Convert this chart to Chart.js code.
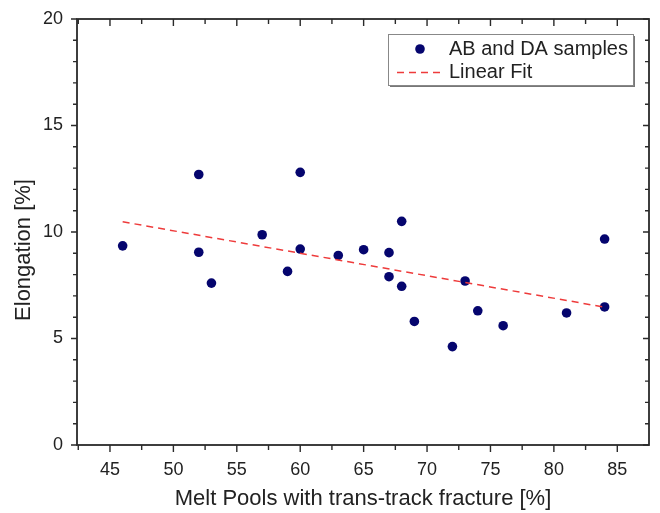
<!DOCTYPE html>
<html>
<head>
<meta charset="utf-8">
<script src="https://cdn.jsdelivr.net/npm/chart.js@4.4.0/dist/chart.umd.min.js"></script>
<style>
  html, body { margin: 0; padding: 0; background: #fff; }
  #wrap { width: 660px; height: 513px; }
</style>
</head>
<body>
<div id="wrap"><canvas id="meltChart" width="660" height="513"></canvas></div>
<script>
// melt pools with trans-track fracture [%]
var meltPools = [46, 52, 52, 53, 57, 59, 60, 60, 63, 65, 67, 67, 68, 68, 69, 72, 73, 74, 76, 81, 84, 84];
// elongation [%]
var elongation = [9.35, 12.7, 9.05, 7.6, 9.87, 8.15, 12.8, 9.2, 8.9, 9.17, 9.03, 7.9, 10.5, 7.45, 5.8, 4.62, 7.7, 6.3, 5.6, 6.2, 9.67, 6.48];
// linear fit end points
var fitX = [46, 84];
var fitY = [10.48, 6.47];
var xTicks = [45, 50, 55, 60, 65, 70, 75, 80, 85];
var yTicks = [0, 5, 10, 15, 20];

var FONT = "'Liberation Sans', Arial, sans-serif";
var TEXT = '#222';
var AXIS = '#2a2a2a';
var DOT = '#05056e';
var FIT = '#ee3b3b';

// frame round the plot, with major + minor ticks (out on bottom/left, in on top/right)
var framePlugin = {
  id: 'frame',
  afterDraw: function (chart) {
    var ctx = chart.ctx;
    var a = chart.chartArea;
    var xs = chart.scales.x;
    var ys = chart.scales.y;
    ctx.save();
    ctx.strokeStyle = AXIS;
    ctx.lineWidth = 1.8;
    ctx.strokeRect(a.left, a.top, a.right - a.left, a.bottom - a.top);
    ctx.lineWidth = 1.4;
    ctx.beginPath();
    for (var v = 42.5; v <= 87.5; v += 2.5) {
      if (v <= xs.min || v >= xs.max) continue;
      var len = (v % 5 === 0) ? 7 : 5;
      var px = xs.getPixelForValue(v);
      ctx.moveTo(px, a.bottom); ctx.lineTo(px, a.bottom + len);
      ctx.moveTo(px, a.top); ctx.lineTo(px, a.top + len);
    }
    for (var w = 0; w <= 20; w += 1) {
      var l2 = (w % 5 === 0) ? 6 : 4;
      var py = ys.getPixelForValue(w);
      ctx.moveTo(a.left - l2, py); ctx.lineTo(a.left, py);
      ctx.moveTo(a.right - l2, py); ctx.lineTo(a.right, py);
    }
    ctx.stroke();

    // y axis title, sits a little below the middle like the original
    ctx.fillStyle = TEXT;
    ctx.font = '22px ' + FONT;
    ctx.textAlign = 'center';
    ctx.textBaseline = 'middle';
    ctx.translate(24, 250);
    ctx.rotate(-Math.PI / 2);
    ctx.fillText('Elongation [%]', 0, 0);
    ctx.restore();
  }
};

// boxed legend inside the plot, top right
var legendPlugin = {
  id: 'boxLegend',
  afterDraw: function (chart) {
    var ctx = chart.ctx;
    var a = chart.chartArea;
    var bx = a.right - 261, by = a.top + 15, bw = 245, bh = 51;
    ctx.save();
    ctx.fillStyle = '#777';
    ctx.fillRect(bx + 2, by + 2, bw, bh);
    ctx.fillStyle = '#fff';
    ctx.fillRect(bx, by, bw, bh);
    ctx.strokeStyle = '#888';
    ctx.lineWidth = 1;
    ctx.strokeRect(bx + 0.5, by + 0.5, bw, bh);

    var ds = chart.data.datasets;
    ctx.fillStyle = ds[0].backgroundColor;
    ctx.beginPath();
    ctx.arc(bx + 32, by + 15, 4.8, 0, Math.PI * 2);
    ctx.fill();

    ctx.strokeStyle = ds[1].borderColor;
    ctx.lineWidth = 1.5;
    ctx.setLineDash([7, 5]);
    ctx.beginPath();
    ctx.moveTo(bx + 9, by + 38.5);
    ctx.lineTo(bx + 53, by + 38.5);
    ctx.stroke();
    ctx.setLineDash([]);

    ctx.fillStyle = TEXT;
    ctx.font = '20px ' + FONT;
    ctx.textBaseline = 'middle';
    ctx.fillText(ds[0].label, bx + 61, by + 15);
    ctx.fillText(ds[1].label, bx + 61, by + 38);
    ctx.restore();
  }
};

var ctx = document.getElementById('meltChart').getContext('2d');

var meltChart = new Chart(ctx, {
  type: 'scatter',
  data: {
    datasets: [{
      label: 'AB and DA samples',
      data: meltPools.map(function (x, i) { return { x: x, y: elongation[i] }; }),
      backgroundColor: DOT,
      borderWidth: 0,
      pointRadius: 4.8,
      order: 1
    }, {
      label: 'Linear Fit',
      data: fitX.map(function (x, i) { return { x: x, y: fitY[i] }; }),
      type: 'line',
      showLine: true,
      fill: false,
      borderColor: FIT,
      borderWidth: 1.5,
      borderDash: [7, 5],
      pointRadius: 0,
      order: 0
    }]
  },
  options: {
    responsive: false,
    animation: false,
    layout: { padding: { top: 19, right: 11, left: 0, bottom: 0 } },
    plugins: {
      legend: { display: false },
      tooltip: { enabled: false }
    },
    scales: {
      x: {
        type: 'linear',
        position: 'bottom',
        min: 42.4,
        max: 87.5,
        afterBuildTicks: function (scale) {
          scale.ticks = xTicks.map(function (v) { return { value: v }; });
        },
        afterFit: function (scale) { scale.height = 68; },
        grid: { display: false },
        border: { display: false },
        ticks: {
          font: { family: FONT, size: 18 },
          color: TEXT,
          padding: 6,
          maxRotation: 0
        },
        title: {
          display: true,
          text: 'Melt Pools with trans-track fracture [%]',
          font: { family: FONT, size: 22 },
          color: TEXT,
          padding: { top: 0, bottom: 1 }
        }
      },
      y: {
        type: 'linear',
        min: 0,
        max: 20,
        afterBuildTicks: function (scale) {
          scale.ticks = yTicks.map(function (v) { return { value: v }; });
        },
        afterFit: function (scale) { scale.width = 77; },
        grid: { display: false },
        border: { display: false },
        ticks: {
          font: { family: FONT, size: 18 },
          color: TEXT,
          padding: 6
        },
        title: { display: false }
      }
    }
  },
  plugins: [framePlugin, legendPlugin]
});
</script>
</body>
</html>
